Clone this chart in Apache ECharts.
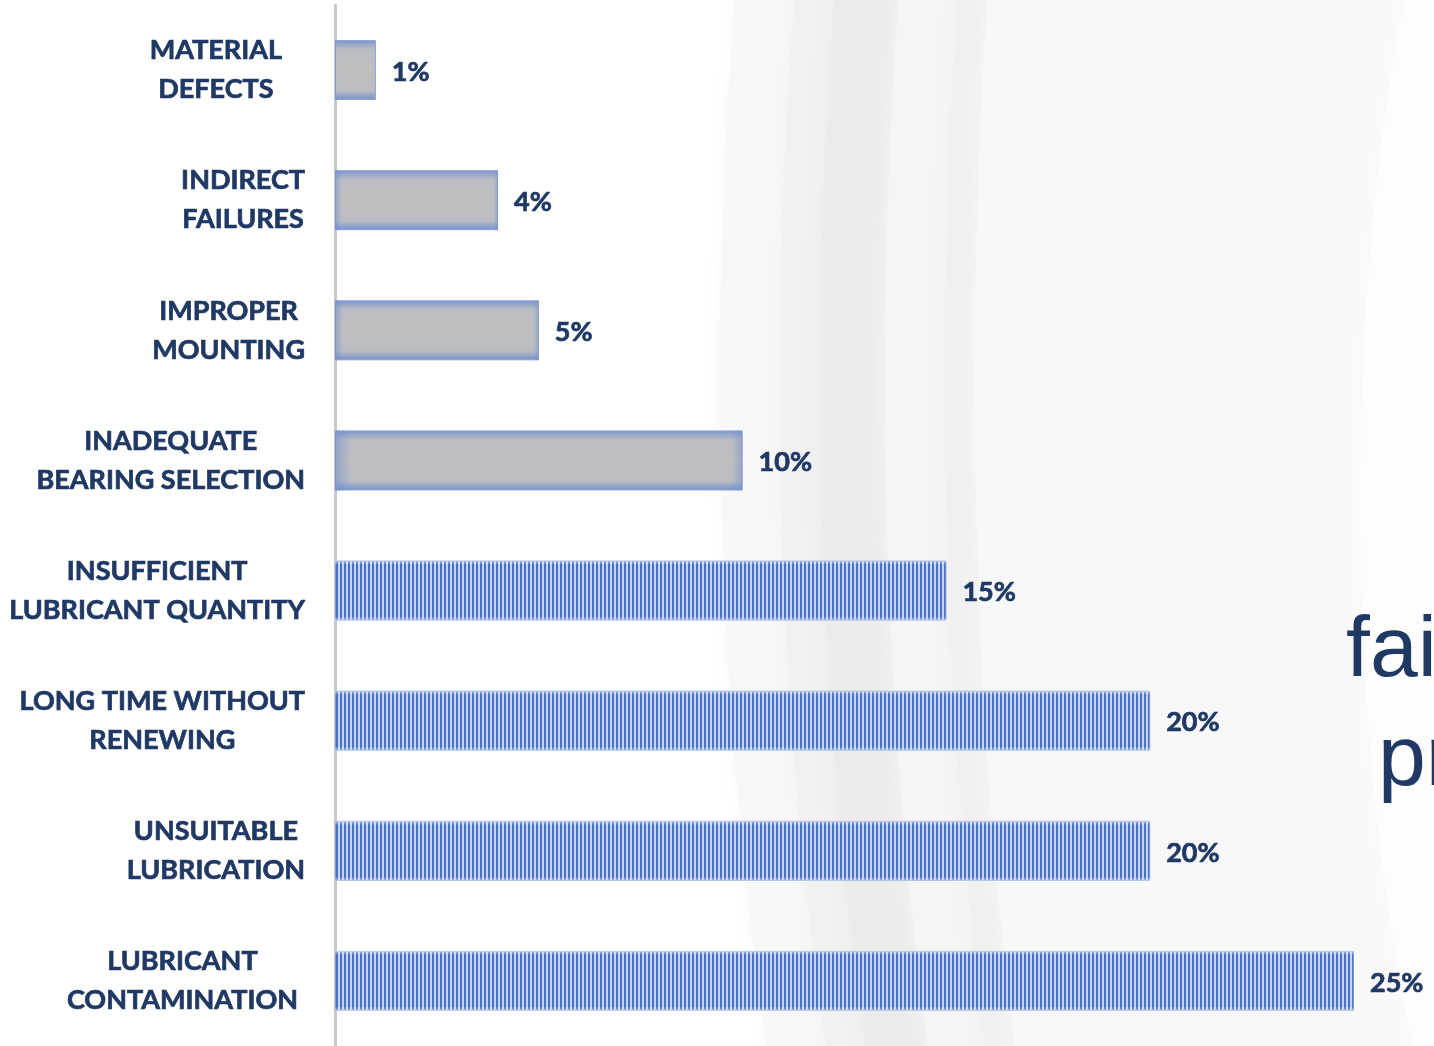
<!DOCTYPE html>
<html>
<head>
<meta charset="utf-8">
<title>Bearing failure causes</title>
<script src="https://cdn.jsdelivr.net/npm/echarts@6/dist/echarts.min.js"></script>
<style>
  html, body { margin: 0; padding: 0; background: #ffffff; }
  #chart { width: 1434px; height: 1046px; }
</style>
</head>
<body>
<div id="chart"></div>
<script>
// Causes of bearing failure, top to bottom
const categories = [
  'MATERIAL\nDEFECTS',
  'INDIRECT\nFAILURES',
  'IMPROPER\nMOUNTING',
  'INADEQUATE\nBEARING SELECTION',
  'INSUFFICIENT\nLUBRICANT QUANTITY',
  'LONG TIME WITHOUT\nRENEWING',
  'UNSUITABLE\nLUBRICATION',
  'LUBRICANT\nCONTAMINATION'
];
// Share of failures, in percent
const shares = [1, 4, 5, 10, 15, 20, 20, 25];
// Lubrication-related causes are drawn with the striped fill
const lubricationRelated = [false, false, false, false, true, true, true, true];
// Partial heading at the right edge
const sideText = ['fai', 'pr'];

const NAVY = '#1f3864';

// Vertical stripe fill for lubrication-related bars
function stripePattern() {
  const c = document.createElement('canvas');
  c.width = 4; c.height = 4;
  const g = c.getContext('2d');
  g.fillStyle = '#c6d4f0';
  g.fillRect(0, 0, 4, 4);
  g.fillStyle = '#4673c8';
  g.fillRect(0, 0, 2, 4);
  return c;
}
const stripes = stripePattern();

// Grey fill with blue-tinted edges for the other causes
const greyFill = new echarts.graphic.LinearGradient(0, 0, 0, 1, [
  { offset: 0, color: '#7e96cc' },
  { offset: 0.16, color: '#bbbdc3' },
  { offset: 0.5, color: '#bfbfbf' },
  { offset: 0.84, color: '#bbbdc3' },
  { offset: 1, color: '#7590cc' }
]);
// Blue tint fading in from the ends of the grey bars
const greyEdge = new echarts.graphic.LinearGradient(0, 0, 1, 0, [
  { offset: 0, color: 'rgba(110,140,205,0.55)' },
  { offset: 0.04, color: 'rgba(110,140,205,0)' },
  { offset: 0.97, color: 'rgba(110,140,205,0)' },
  { offset: 1, color: 'rgba(110,140,205,0.45)' }
]);
// Soft light rim over the striped bars
const rimFill = new echarts.graphic.LinearGradient(0, 0, 0, 1, [
  { offset: 0, color: 'rgba(255,255,255,0.55)' },
  { offset: 0.07, color: 'rgba(255,255,255,0)' },
  { offset: 0.93, color: 'rgba(255,255,255,0)' },
  { offset: 1, color: 'rgba(255,255,255,0.5)' }
]);

const mainData = shares.map((v, i) => ({
  value: v,
  itemStyle: lubricationRelated[i]
    ? { color: { image: stripes, repeat: 'repeat' }, borderColor: '#7f9ad6', borderWidth: 1 }
    : { color: greyFill, borderColor: '#8aa2d6', borderWidth: 1 }
}));
const overlayData = shares.map((v, i) => ({
  value: v,
  itemStyle: { color: lubricationRelated[i] ? rimFill : greyEdge }
}));

// Faint ring shapes in the backdrop
const backdrop = [
  { shape: { cx: 1720, cy: 380, rx: 1000, ry: 2200 }, fill: '#f8f8f9' },
  { shape: { cx: 1720, cy: 380, rx: 940, ry: 2150 }, fill: '#f1f1f2' },
  { shape: { cx: 1720, cy: 380, rx: 900, ry: 2120 }, fill: '#ececed' },
  { shape: { cx: 1720, cy: 380, rx: 835, ry: 2100 }, fill: '#f5f5f6' },
  { shape: { cx: 1720, cy: 380, rx: 775, ry: 2080 }, fill: '#f0f0f1' },
  { shape: { cx: 1720, cy: 380, rx: 745, ry: 2060 }, fill: '#f8f8f8' },
  { shape: { cx: 1760, cy: 500, rx: 400, ry: 1100 }, fill: '#fdfdfd' }
].map(e => ({
  type: 'ellipse',
  silent: true,
  z: -10,
  shape: e.shape,
  style: { fill: e.fill, shadowBlur: 18, shadowColor: e.fill }
}));

const labelFont = {
  fontFamily: 'Lato',
  fontWeight: 'bold',
  fontSize: 27,
  color: NAVY,
  textBorderColor: NAVY,
  textBorderWidth: 0.7
};

// A few category labels sit further in from the axis
const labelInset = { 0: 23, 7: 7 };
const categoryItems = categories.map((c, i) => (
  labelInset[i] ? { value: c, textStyle: { padding: [0, labelInset[i], 0, 0] } } : c
));

const chart = echarts.init(document.getElementById('chart'), null, { renderer: 'canvas' });

chart.setOption({
  backgroundColor: '#ffffff',
  animation: false,
  grid: { left: 335, right: 80, top: 5, bottom: 0, containLabel: false, outerBoundsMode: 'none' },
  xAxis: {
    type: 'value',
    min: 0,
    max: 25,
    show: false
  },
  yAxis: {
    type: 'category',
    inverse: true,
    data: categoryItems,
    axisLine: { show: true, lineStyle: { color: '#c8c8c8', width: 3 } },
    axisTick: { show: false },
    splitLine: { show: false },
    axisLabel: Object.assign({
      margin: 30,
      lineHeight: 39,
      formatter: v => v.split('\n').map(line => '{c|' + line + '}').join('\n'),
      rich: { c: Object.assign({ align: 'center', lineHeight: 39 }, labelFont) }
    }, labelFont)
  },
  graphic: backdrop.concat(sideText.map((t, i) => ({
    type: 'text',
    silent: true,
    z: 1,
    left: i === 0 ? 1346 : 1378,
    top: i === 0 ? 609 : 718,
    style: {
      text: t,
      fill: NAVY,
      fontFamily: 'Liberation Sans',
      fontSize: 86
    }
  }))),
  series: [
    {
      type: 'bar',
      data: mainData,
      barWidth: 60,
      z: 2,
      label: Object.assign({
        show: true,
        position: 'right',
        distance: 16,
        offset: [0, 2],
        formatter: p => p.value + '%'
      }, labelFont)
    },
    {
      type: 'bar',
      data: overlayData,
      barWidth: 60,
      barGap: '-100%',
      silent: true,
      z: 3,
      label: { show: false }
    }
  ]
});
</script>
</body>
</html>
